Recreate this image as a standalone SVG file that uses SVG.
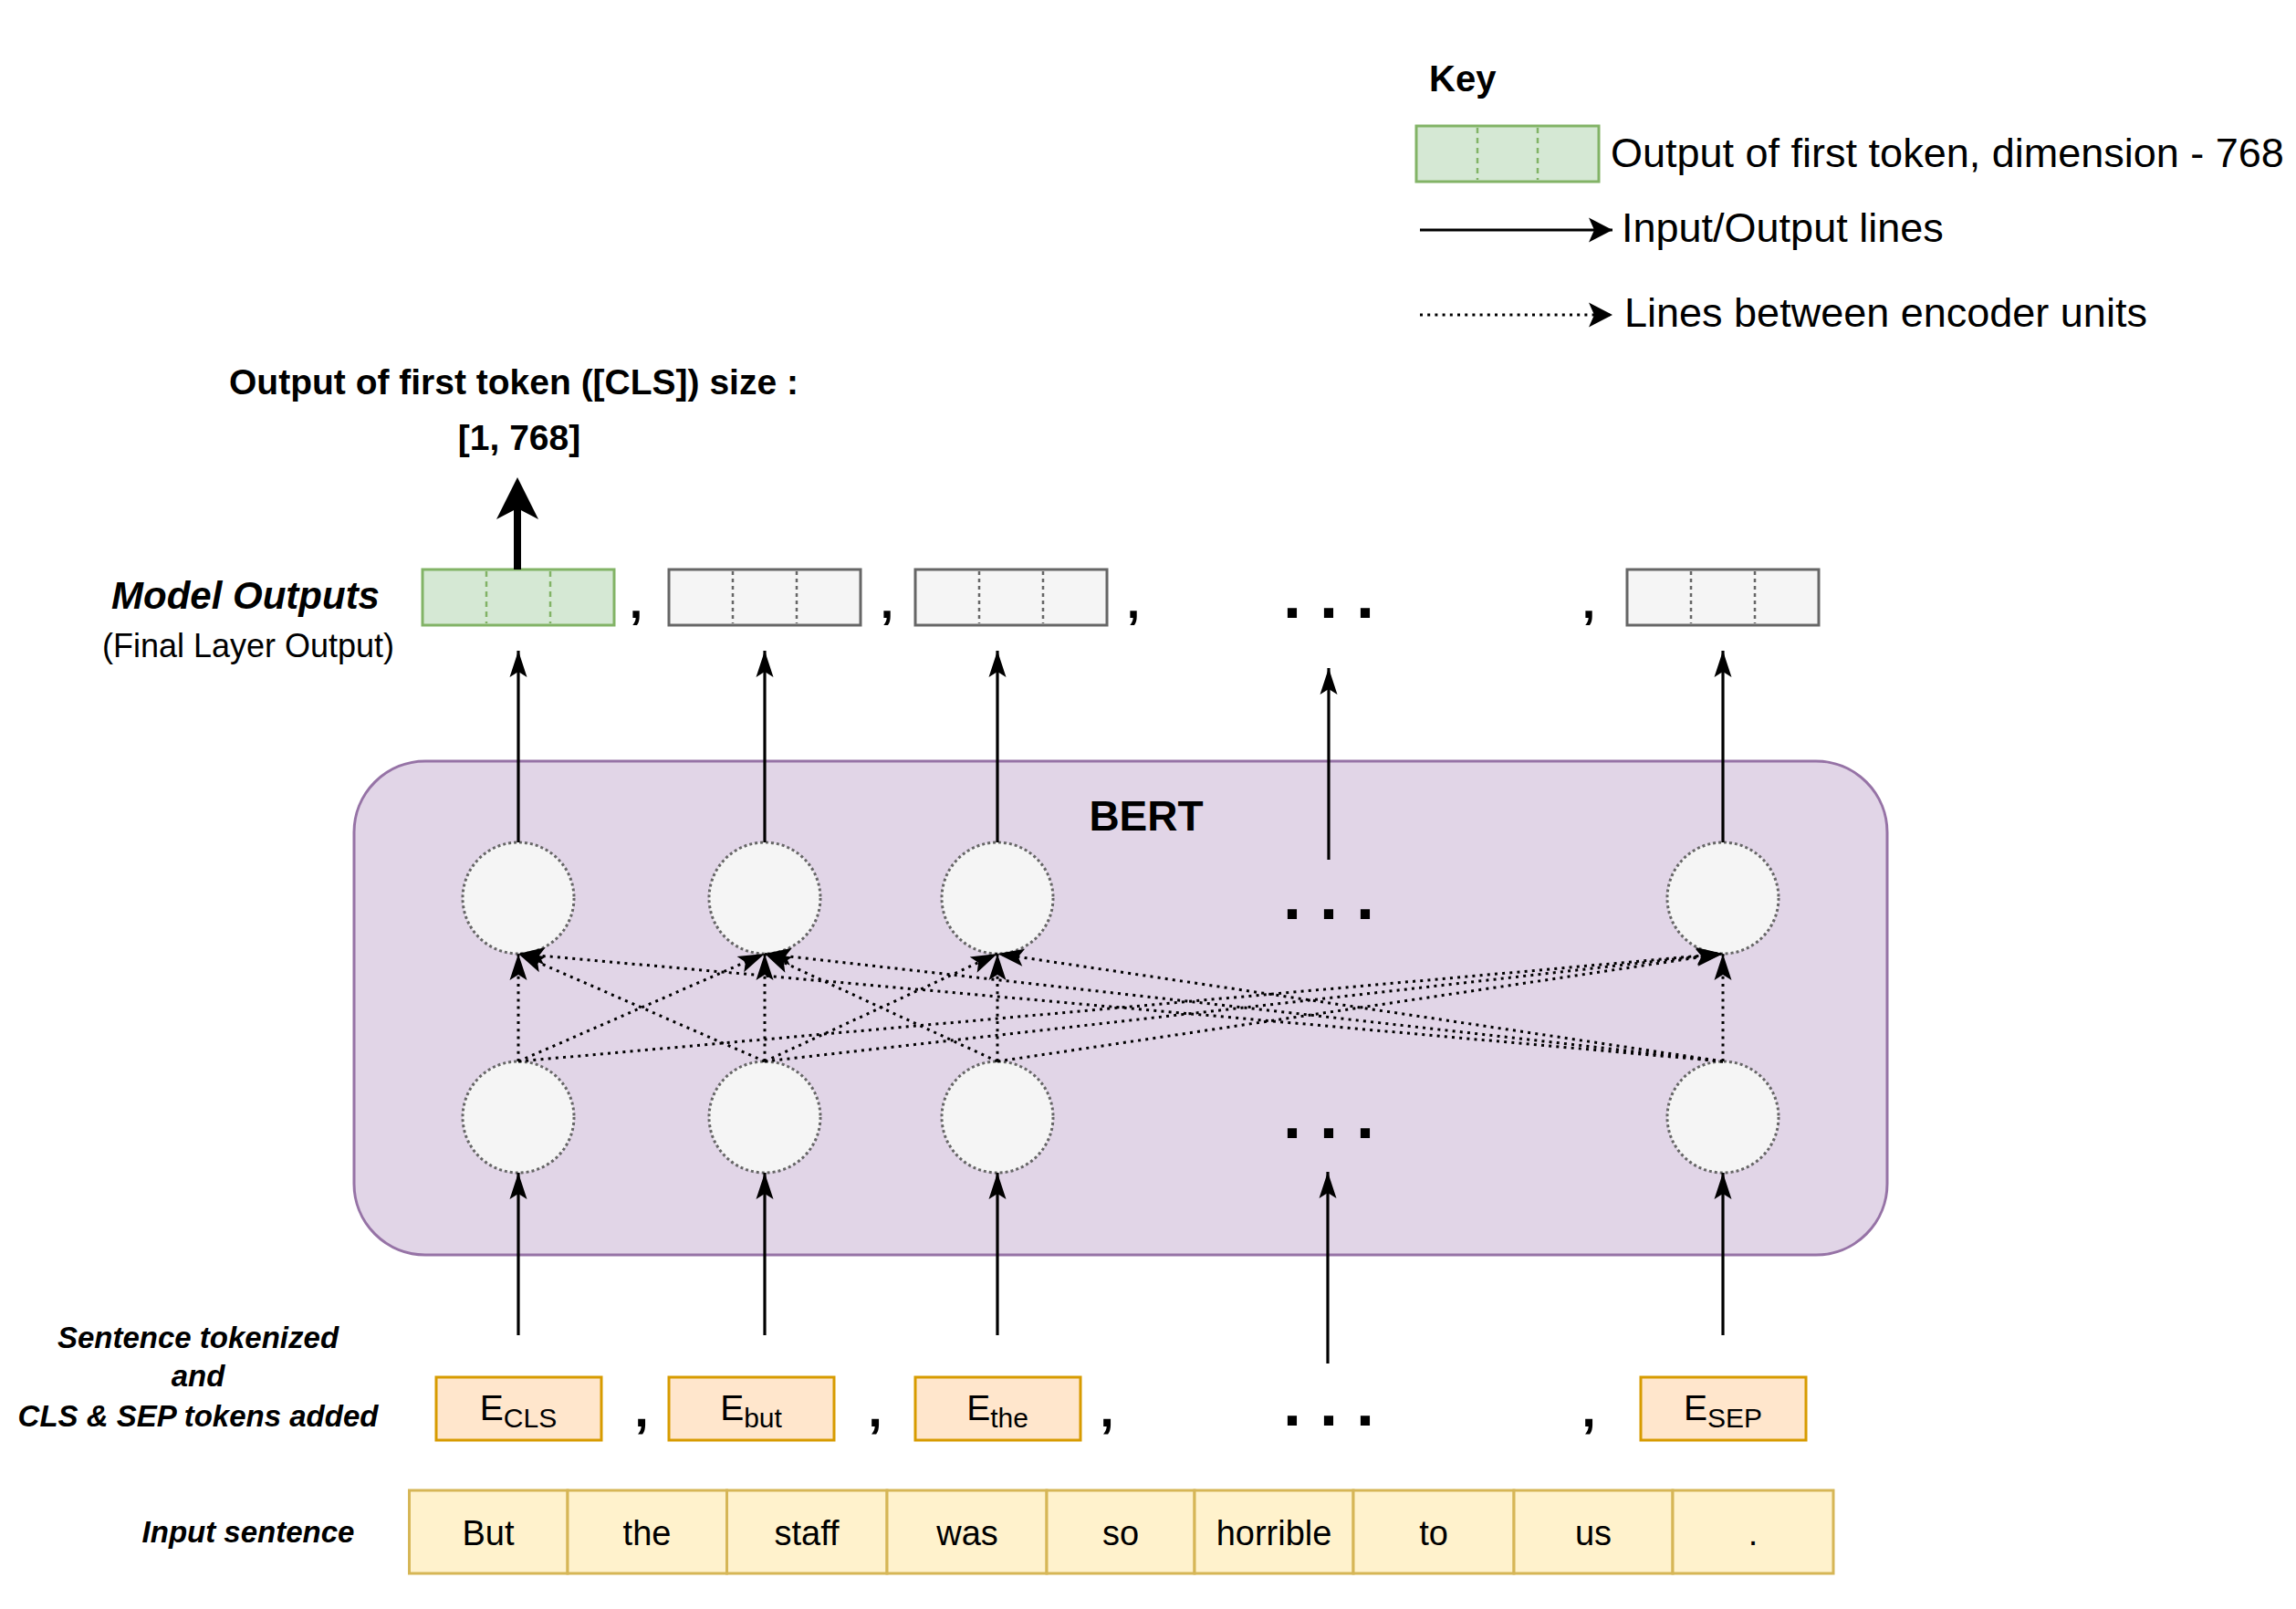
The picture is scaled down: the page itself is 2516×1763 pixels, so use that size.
<svg xmlns="http://www.w3.org/2000/svg" width="2516" height="1763" viewBox="0 0 2516 1763">
<style>
text{font-family:"Liberation Sans",Arial,Helvetica,sans-serif;fill:#000}
.b{font-weight:bold}
.bi{font-weight:bold;font-style:italic}
.mid{text-anchor:middle}
.io{stroke:#000;stroke-width:3.2;fill:none}
.dot{stroke:#000;stroke-width:3;stroke-dasharray:3 5.2;fill:none}
.circ{fill:#f5f5f5;stroke:#666;stroke-width:3;stroke-dasharray:3 3}
.gbox{fill:#f5f5f5;stroke:#666;stroke-width:3}
.gdiv{stroke:#666;stroke-width:2.5;stroke-dasharray:4 4}
.grbox{fill:#d5e8d4;stroke:#82b366;stroke-width:3}
.grdiv{stroke:#82b366;stroke-width:2.5;stroke-dasharray:6 5}
.ebox{fill:#ffe6cc;stroke:#d79b00;stroke-width:3}
.wbox{fill:#fff2cc;stroke:#d6b656;stroke-width:3}
.dots{font-weight:bold;font-size:72px;text-anchor:middle}
.cm{font-weight:bold;text-anchor:middle}
.word{font-size:38px;text-anchor:middle}
</style>
<defs>
<marker id="arr" markerUnits="userSpaceOnUse" markerWidth="30" markerHeight="20" refX="29" refY="10" orient="auto" overflow="visible">
<path d="M29,10 L0,0.5 L6,10 L0,19.5 Z" fill="#000"/>
</marker>
<marker id="arrKey" markerUnits="userSpaceOnUse" markerWidth="27" markerHeight="28" refX="26" refY="14" orient="auto" overflow="visible">
<path d="M26,14 L0,0.5 L6,14 L0,27.5 Z" fill="#000"/>
</marker>
<marker id="arrThick" markerUnits="userSpaceOnUse" markerWidth="46" markerHeight="46" refX="12" refY="23" orient="auto" overflow="visible">
<path d="M46,23 L0,0 L12,23 L0,46 Z" fill="#000"/>
</marker>
</defs>
<rect width="2516" height="1763" fill="#fff"/>

<g id="key">
<text class="b" x="1566" y="100" font-size="40">Key</text>
<rect class="grbox" x="1552" y="138" width="200" height="61"/>
<line class="grdiv" x1="1619" y1="140" x2="1619" y2="197"/>
<line class="grdiv" x1="1685" y1="140" x2="1685" y2="197"/>
<text x="1765" y="183" font-size="45">Output of first token, dimension - 768</text>
<line class="io" x1="1556" y1="252" x2="1767" y2="252" stroke-width="3.5" marker-end="url(#arrKey)"/>
<text x="1777" y="265" font-size="45">Input/Output lines</text>
<line class="dot" x1="1556" y1="345" x2="1767" y2="345" stroke-width="2.7" stroke-dasharray="2.7 4" marker-end="url(#arrKey)"/>
<text x="1780" y="358" font-size="45">Lines between encoder units</text>
</g>

<g id="cls-output-label">
<text class="b mid" x="563" y="432" font-size="39">Output of first token ([CLS]) size :</text>
<text class="b mid" x="569" y="493" font-size="39">[1, 768]</text>
</g>

<g id="model-outputs-label">
<text class="bi mid" x="269" y="667" font-size="42">Model Outputs</text>
<text class="mid" x="272" y="720" font-size="36">(Final Layer Output)</text>
</g>

<g id="bert">
<rect x="388" y="834" width="1680" height="541" rx="78" ry="78" fill="#e1d5e7" stroke="#9673a6" stroke-width="3"/>
<text class="b mid" x="1256" y="910" font-size="46">BERT</text>
</g>

<g id="out1">
<rect class="grbox" x="463" y="624" width="210" height="61"/>
<line class="grdiv" x1="533" y1="626" x2="533" y2="683"/>
<line class="grdiv" x1="603" y1="626" x2="603" y2="683"/>
</g>
<g id="out2">
<rect class="gbox" x="733" y="624" width="210" height="61"/>
<line class="gdiv" x1="803" y1="626" x2="803" y2="683"/>
<line class="gdiv" x1="873" y1="626" x2="873" y2="683"/>
</g>
<g id="out3">
<rect class="gbox" x="1003" y="624" width="210" height="61"/>
<line class="gdiv" x1="1073" y1="626" x2="1073" y2="683"/>
<line class="gdiv" x1="1143" y1="626" x2="1143" y2="683"/>
</g>
<g id="out-last">
<rect class="gbox" x="1783" y="624" width="210" height="61"/>
<line class="gdiv" x1="1853" y1="626" x2="1853" y2="683"/>
<line class="gdiv" x1="1923" y1="626" x2="1923" y2="683"/>
</g>
<g id="out-separators">
<text class="cm" x="697" y="677" font-size="52">,</text>
<text class="cm" x="972" y="677" font-size="52">,</text>
<text class="cm" x="1242" y="677" font-size="52">,</text>
<text class="cm" x="1741" y="677" font-size="52">,</text>
<text class="dots" x="1456" y="677">. . .</text>
</g>

<g id="top-units">
<circle class="circ" cx="568" cy="984" r="61"/>
<circle class="circ" cx="838" cy="984" r="61"/>
<circle class="circ" cx="1093" cy="984" r="61"/>
<circle class="circ" cx="1888" cy="984" r="61"/>
<text class="dots" x="1456" y="1007">. . .</text>
</g>
<g id="bottom-units">
<circle class="circ" cx="568" cy="1224" r="61"/>
<circle class="circ" cx="838" cy="1224" r="61"/>
<circle class="circ" cx="1093" cy="1224" r="61"/>
<circle class="circ" cx="1888" cy="1224" r="61"/>
<text class="dots" x="1456" y="1247">. . .</text>
</g>

<g id="embeddings">
<rect class="ebox" x="478" y="1509" width="181" height="69"/>
<text class="mid" x="568" y="1556" font-size="39">E<tspan font-size="30" dy="8">CLS</tspan></text>
<rect class="ebox" x="733" y="1509" width="181" height="69"/>
<text class="mid" x="823" y="1556" font-size="39">E<tspan font-size="30" dy="8">but</tspan></text>
<rect class="ebox" x="1003" y="1509" width="181" height="69"/>
<text class="mid" x="1093" y="1556" font-size="39">E<tspan font-size="30" dy="8">the</tspan></text>
<rect class="ebox" x="1798" y="1509" width="181" height="69"/>
<text class="mid" x="1888" y="1556" font-size="39">E<tspan font-size="30" dy="8">SEP</tspan></text>
<text class="cm" x="703" y="1563" font-size="56">,</text>
<text class="cm" x="959" y="1563" font-size="56">,</text>
<text class="cm" x="1213" y="1563" font-size="56">,</text>
<text class="cm" x="1741" y="1563" font-size="56">,</text>
<text class="dots" x="1456" y="1562">. . .</text>
</g>

<g id="tokenized-label">
<text class="bi mid" x="217" y="1477" font-size="33">Sentence tokenized</text>
<text class="bi mid" x="217" y="1519" font-size="33">and</text>
<text class="bi mid" x="217" y="1563" font-size="33">CLS &amp; SEP tokens added</text>
</g>

<g id="input-sentence">
<text class="bi mid" x="272" y="1690" font-size="33">Input sentence</text>
<rect class="wbox" x="448.5" y="1633" width="173.5" height="91"/>
<rect class="wbox" x="622" y="1633" width="174.5" height="91"/>
<rect class="wbox" x="796.5" y="1633" width="175.5" height="91"/>
<rect class="wbox" x="972" y="1633" width="175" height="91"/>
<rect class="wbox" x="1147" y="1633" width="162" height="91"/>
<rect class="wbox" x="1309" y="1633" width="174" height="91"/>
<rect class="wbox" x="1483" y="1633" width="176" height="91"/>
<rect class="wbox" x="1659" y="1633" width="174" height="91"/>
<rect class="wbox" x="1833" y="1633" width="176" height="91"/>
<text class="word" x="535" y="1693">But</text>
<text class="word" x="709" y="1693">the</text>
<text class="word" x="884" y="1693">staff</text>
<text class="word" x="1060" y="1693">was</text>
<text class="word" x="1228" y="1693">so</text>
<text class="word" x="1396" y="1693">horrible</text>
<text class="word" x="1571" y="1693">to</text>
<text class="word" x="1746" y="1693">us</text>
<text class="word" x="1921" y="1693">.</text>
</g>

<g id="connectors">
<line x1="567" y1="624" x2="567" y2="557" stroke="#000" stroke-width="8" marker-end="url(#arrThick)"/>
<line class="io" x1="568" y1="923" x2="568" y2="713" marker-end="url(#arr)"/>
<line class="io" x1="838" y1="923" x2="838" y2="713" marker-end="url(#arr)"/>
<line class="io" x1="1093" y1="923" x2="1093" y2="713" marker-end="url(#arr)"/>
<line class="io" x1="1456" y1="942" x2="1456" y2="732" marker-end="url(#arr)"/>
<line class="io" x1="1888" y1="923" x2="1888" y2="713" marker-end="url(#arr)"/>
<line class="io" x1="568" y1="1463" x2="568" y2="1285" marker-end="url(#arr)"/>
<line class="io" x1="838" y1="1463" x2="838" y2="1285" marker-end="url(#arr)"/>
<line class="io" x1="1093" y1="1463" x2="1093" y2="1285" marker-end="url(#arr)"/>
<line class="io" x1="1455" y1="1494" x2="1455" y2="1284" marker-end="url(#arr)"/>
<line class="io" x1="1888" y1="1463" x2="1888" y2="1285" marker-end="url(#arr)"/>
<line class="dot" x1="568" y1="1163" x2="568" y2="1045" marker-end="url(#arr)"/>
<line class="dot" x1="838" y1="1163" x2="838" y2="1045" marker-end="url(#arr)"/>
<line class="dot" x1="1093" y1="1163" x2="1093" y2="1045" marker-end="url(#arr)"/>
<line class="dot" x1="1888" y1="1163" x2="1888" y2="1045" marker-end="url(#arr)"/>
<line class="dot" x1="568" y1="1163" x2="838" y2="1045" marker-end="url(#arr)"/>
<line class="dot" x1="838" y1="1163" x2="568" y2="1045" marker-end="url(#arr)"/>
<line class="dot" x1="838" y1="1163" x2="1093" y2="1045" marker-end="url(#arr)"/>
<line class="dot" x1="1093" y1="1163" x2="838" y2="1045" marker-end="url(#arr)"/>
<line class="dot" x1="568" y1="1163" x2="1888" y2="1045" marker-end="url(#arr)"/>
<line class="dot" x1="838" y1="1163" x2="1888" y2="1045" marker-end="url(#arr)"/>
<line class="dot" x1="1093" y1="1163" x2="1888" y2="1045" marker-end="url(#arr)"/>
<line class="dot" x1="1888" y1="1163" x2="568" y2="1045" marker-end="url(#arr)"/>
<line class="dot" x1="1888" y1="1163" x2="838" y2="1045" marker-end="url(#arr)"/>
<line class="dot" x1="1888" y1="1163" x2="1093" y2="1045" marker-end="url(#arr)"/>
</g>
</svg>
